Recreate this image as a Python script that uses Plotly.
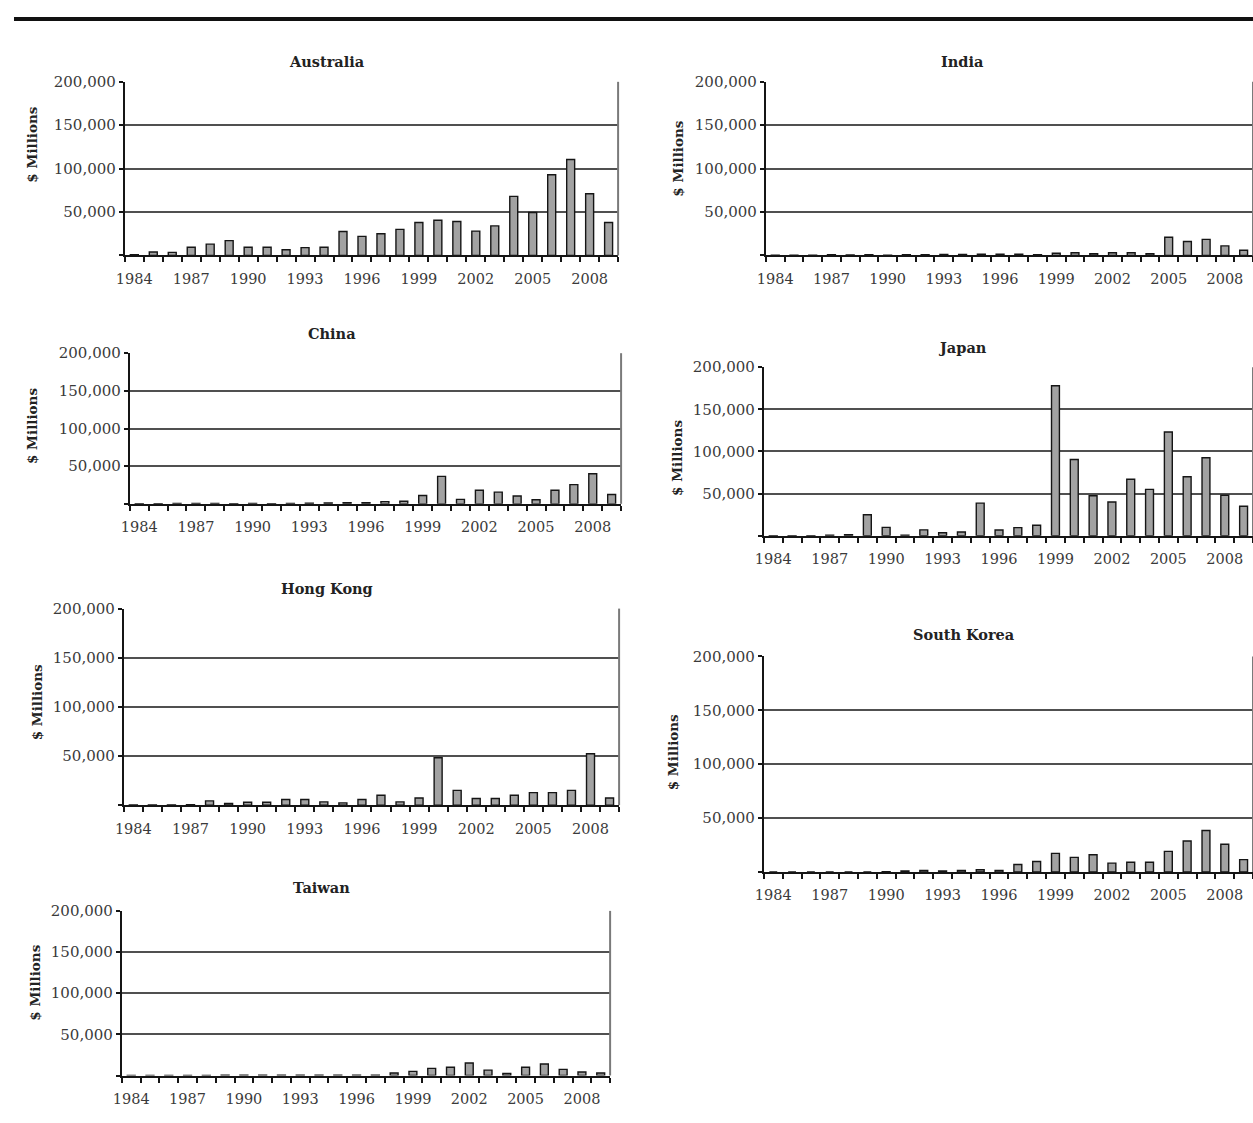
import plotly.graph_objects as go

years = list(range(1984, 2010))
tick_years = list(range(1984, 2009, 3))
tick_labels = [str(y) for y in tick_years]
y_ticks = [0, 50000, 100000, 150000, 200000]
y_labels = ["", "50,000", "100,000", "150,000", "200,000"]

countries = ["Australia", "India", "China", "Japan", "Hong Kong", "South Korea", "Taiwan"]

australia = [800, 4000, 3500, 9500, 13000, 17000, 9500, 9500, 6500, 9000, 9500, 27500, 22000,
             25000, 30000, 38000, 40500, 39000, 28000, 34000, 68000, 49500, 93000, 110500, 71000, 38000]
india = [300, 300, 300, 800, 500, 800, 300, 800, 800, 1000, 1000, 1500, 1500,
         1500, 800, 2500, 3000, 2000, 3000, 3000, 2000, 21000, 16000, 18500, 11000, 6000]
china = [300, 300, 500, 500, 500, 300, 500, 300, 500, 1000, 1200, 1500, 1500,
         3000, 3500, 11000, 36500, 6000, 18000, 15500, 10500, 5500, 18000, 25500, 40000, 12500]
japan = [200, 200, 200, 800, 1200, 25000, 10000, 800, 7000, 3600, 4400, 38700, 6900,
         9700, 12500, 178000, 90500, 47500, 40000, 67000, 55000, 123000, 70000, 92500, 48000, 35000]
hong_kong = [200, 200, 300, 500, 4300, 1700, 3000, 3000, 5700, 5700, 3300, 2300, 5700,
             10000, 3300, 7300, 48300, 15000, 6700, 6700, 10000, 12700, 12700, 15000, 52300, 7300]
south_korea = [0, 0, 0, 0, 0, 0, 200, 900, 1500, 900, 1500, 2100, 1500,
               7000, 9700, 17300, 13600, 16000, 8200, 9100, 9100, 19100, 28800, 38500, 25800, 11500]
taiwan = [100, 100, 100, 200, 200, 300, 300, 300, 300, 300, 300, 300, 300,
          500, 3000, 5000, 8700, 10000, 15200, 6500, 2500, 10000, 14000, 7500, 4200, 3000]

series = [australia, india, china, japan, hong_kong, south_korea, taiwan]

W, H = 1253, 1123


def T(v):
    # map a target page pixel to figure pixel (compensates page offset/scale)
    return (v - 7.0) / 0.9943


# plot area boxes in target pixels: x0, x1, top, bottom
boxes = [(123, 617, 80, 254), (765, 1253, 80, 254), (128, 620, 352, 503),
         (763, 1253, 366, 535), (122, 618, 608, 805), (763, 1253, 656, 872),
         (120, 609, 911, 1076)]
title_pos = [(325, 60), (962, 60), (330, 332), (962, 346), (325, 588), (963, 634), (320, 888)]
ylab_pos = [(30, 143), (677, 157), (30, 425), (676, 457), (35, 702), (672, 752), (33, 983)]

FONT = "DejaVu Serif"
fig = go.Figure()
layout = dict(width=W, height=H, margin=dict(l=0, r=0, t=0, b=0),
              paper_bgcolor="white", plot_bgcolor="white", showlegend=False,
              bargap=0.55)
annotations = []
ry = 1 - T(17) / H
shapes = [dict(type="line", xref="paper", yref="paper", x0=T(12) / W, x1=1,
               y0=ry, y1=ry, line=dict(color="#111", width=4))]

for i, (name, vals) in enumerate(zip(countries, series)):
    k = i + 1
    sfx = "" if k == 1 else str(k)
    xa, ya = "x" + sfx, "y" + sfx
    fig.add_trace(go.Bar(x=years, y=vals, xaxis=xa, yaxis=ya, width=0.42,
                         marker=dict(color="#a2a2a2", line=dict(color="#151515", width=1.4)),
                         name=name))
    x0, x1, yt, yb = boxes[i]
    layout["xaxis" + sfx] = dict(
        domain=[T(x0) / W, min(1.0, T(x1) / W)], anchor=ya, range=[1983.5, 2009.5],
        tickmode="array", tickvals=tick_years, ticktext=tick_labels,
        ticks="outside", ticklen=9, tickcolor="rgba(0,0,0,0)",
        showline=True, linecolor="#151515", linewidth=2,
        showgrid=False, zeroline=False,
        tickfont=dict(family=FONT, size=14.5, color="#3a3a3a"),
        minor=dict(tickmode="array", tickvals=[y - 0.5 for y in years] + [2009.5],
                   ticks="outside", ticklen=5, tickwidth=1.5, tickcolor="#151515",
                   showgrid=False),
        fixedrange=True)
    layout["yaxis" + sfx] = dict(
        domain=[1 - T(yb) / H, 1 - T(yt) / H], anchor=xa, range=[0, 200000],
        tickmode="array", tickvals=y_ticks, ticktext=y_labels,
        ticks="outside", ticklen=4, tickwidth=1.5, tickcolor="#151515",
        showline=True, linecolor="#151515", linewidth=2,
        showgrid=True, gridcolor="#505050", gridwidth=2, zeroline=False,
        tickfont=dict(family=FONT, size=15, color="#3a3a3a"),
        fixedrange=True)
    shapes.append(dict(type="line", xref=xa + " domain", yref=ya + " domain",
                       x0=1, x1=1, y0=0, y1=1, line=dict(color="#7a7a7a", width=2)))
    tx, ty = title_pos[i]
    annotations.append(dict(text="<b>" + name + "</b>", xref="paper", yref="paper",
                            x=T(tx) / W, y=1 - T(ty) / H, xanchor="center", yanchor="middle",
                            showarrow=False, font=dict(family=FONT, size=14.5, color="#222")))
    lx, ly = ylab_pos[i]
    annotations.append(dict(text="<b>$ Millions</b>", xref="paper", yref="paper",
                            x=T(lx) / W, y=1 - T(ly) / H, xanchor="center", yanchor="middle",
                            textangle=-90, showarrow=False,
                            font=dict(family=FONT, size=13.5, color="#222")))

layout["annotations"] = annotations
layout["shapes"] = shapes
fig.update_layout(**layout)
fig.write_html("out.html", config={"displayModeBar": False},
               post_script="document.body.style.margin='0';"
                           "document.documentElement.style.overflow='hidden';"
                           "document.body.style.overflow='hidden';")
